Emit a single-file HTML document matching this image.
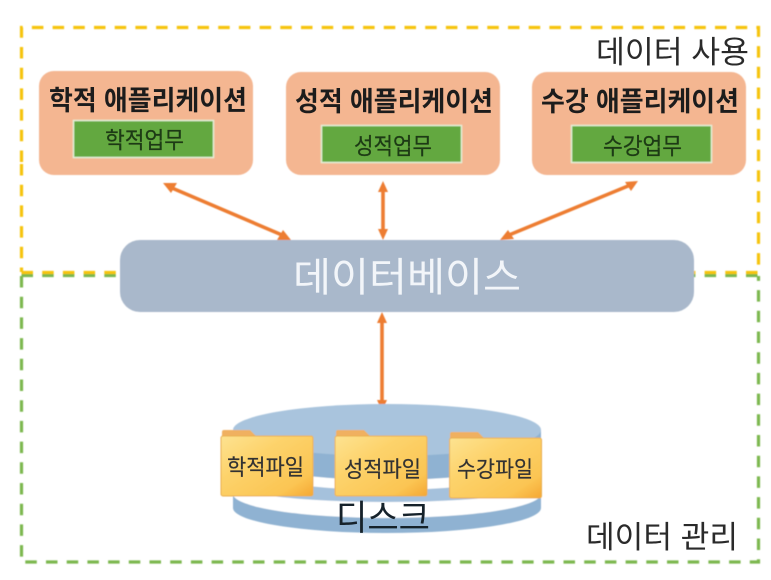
<!DOCTYPE html>
<html><head><meta charset="utf-8">
<style>
html,body{margin:0;padding:0;background:#fff;width:771px;height:580px;overflow:hidden}
svg{display:block}
text{font-family:"Liberation Sans","Noto Sans CJK KR",sans-serif}
</style></head>
<body>
<svg width="771" height="580" viewBox="0 0 771 580" xmlns="http://www.w3.org/2000/svg">
<defs>
<linearGradient id="f" x1="0" y1="0" x2="1" y2="1">
<stop offset="0" stop-color="#fde391"/><stop offset=".35" stop-color="#fdd36c"/><stop offset=".8" stop-color="#fbc553"/><stop offset="1" stop-color="#f5a733"/>
</linearGradient>
<filter id="b" x="-5%" y="-5%" width="110%" height="110%"><feGaussianBlur stdDeviation="0.45"/></filter>
<filter id="t" x="-5%" y="-5%" width="110%" height="110%"><feGaussianBlur stdDeviation="0.3"/></filter>
</defs>
<rect width="771" height="580" fill="#fff"/>
<g filter="url(#b)">
<path d="M21.5 276V562H758.500V276" fill="none" stroke="#7db84f" stroke-width="3.2" stroke-dasharray="11.5 9.2"/>
<path d="M21.500 275.500H758.500" fill="none" stroke="#7db84f" stroke-width="3.200" stroke-dasharray="11.5 9.2"/>
<path d="M21.5 162V27.5H758.500V272" fill="none" stroke="#f6c40e" stroke-width="3.2" stroke-dasharray="11.5 9.2"/>
<path d="M21.5 164V272" fill="none" stroke="#f6c40e" stroke-width="3.2" stroke-dasharray="11.5 9.2"/>
<path d="M21.500 272.500H758.500" fill="none" stroke="#f6c40e" stroke-width="3.200" stroke-dasharray="11.5 9.2"/>

<rect x="39" y="71" width="214" height="104" rx="15" fill="#f4b691"/>
<rect x="286" y="72" width="214" height="103" rx="15" fill="#f4b691"/>
<rect x="532" y="72" width="214" height="103" rx="15" fill="#f4b691"/>
<rect x="73.5" y="120.5" width="140" height="37" fill="#63a83f" stroke="#e4f0d8" stroke-width="1.5"/>
<rect x="321.5" y="125.5" width="140" height="37" fill="#63a83f" stroke="#e4f0d8" stroke-width="1.5"/>
<rect x="571.5" y="125.5" width="140" height="37" fill="#63a83f" stroke="#e4f0d8" stroke-width="1.5"/>

<g stroke="#ed7d31" stroke-width="3.6" fill="none">
<path d="M172 188L282 235"/>
<path d="M383 190V232"/>
<path d="M628 186L509 235"/>
<path d="M382 320V404"/>
</g>
<g fill="#ed7d31">
<path d="M163 183L177 183L171 193Z"/>
<path d="M291 240L277 240L283 230Z"/>
<path d="M383 181L388 192L378 192Z"/>
<path d="M383 240L388 229L378 229Z"/>
<path d="M638 181L631 191L625 182Z"/>
<path d="M500 240L514 239L508 230Z"/>
<path d="M382 312L387 323L377 323Z"/>
<path d="M382 411L377 400L387 400Z"/>
</g>

<rect x="120" y="240" width="574" height="72" rx="20" fill="#a9b8cb"/>

<!-- disk -->
<path d="M233 497V508A154 25 0 0 0 541 508V497Z" fill="#8fb2d2"/>
<ellipse cx="387" cy="497" rx="154" ry="25" fill="#8fb2d2"/>
<ellipse cx="387" cy="494" rx="154" ry="24" fill="#fff"/>
<ellipse cx="387" cy="484" rx="154" ry="18" fill="#a5c1dc"/>
<ellipse cx="387" cy="462" rx="154" ry="28" fill="#fff"/>
<path d="M233 430V452A154 28 0 0 0 541 452V430Z" fill="#8fb2d2"/>
<ellipse cx="387" cy="430" rx="154" ry="26" fill="#a9c4dd"/>

<!-- folders -->
<g>
<path d="M222 442V432Q222 430 224 430H250L256 436V442Z" fill="#f0b060"/>
<rect x="221" y="436" width="92" height="60" rx="2" fill="url(#f)" stroke="#e8ad4d" stroke-width="1"/>
<path d="M336 442V432Q336 430 338 430H364L370 436V442Z" fill="#f0b060"/>
<rect x="335" y="436" width="92" height="60" rx="2" fill="url(#f)" stroke="#e8ad4d" stroke-width="1"/>
<path d="M450 444V434Q450 432 452 432H478L484 438V444Z" fill="#f0b060"/>
<rect x="449.500" y="438" width="92" height="60" rx="2" fill="url(#f)" stroke="#e8ad4d" stroke-width="1"/>
</g>
</g>

<g filter="url(#t)">
<text x="293" y="291" font-size="40" fill="#f2f5f9" textLength="228" lengthAdjust="spacingAndGlyphs">데이터베이스</text>
<g fill="#1c1c1c">
<text x="49" y="110" font-size="27" font-weight="700" textLength="198" lengthAdjust="spacingAndGlyphs">학적 애플리케이션</text>
<text x="295" y="111" font-size="27" font-weight="700" textLength="198" lengthAdjust="spacingAndGlyphs">성적 애플리케이션</text>
<text x="541" y="111" font-size="27" font-weight="700" textLength="198" lengthAdjust="spacingAndGlyphs">수강 애플리케이션</text>
<text x="105" y="148" font-size="23" textLength="79" lengthAdjust="spacingAndGlyphs" fill="#1f3a14" stroke="#1f3a14" stroke-width=".25">학적업무</text>
<text x="354" y="154" font-size="23" textLength="78" lengthAdjust="spacingAndGlyphs" fill="#1f3a14" stroke="#1f3a14" stroke-width=".25">성적업무</text>
<text x="603" y="154" font-size="23" textLength="79" lengthAdjust="spacingAndGlyphs" fill="#1f3a14" stroke="#1f3a14" stroke-width=".25">수강업무</text>
<text x="227" y="475" font-size="22" textLength="77" lengthAdjust="spacingAndGlyphs" fill="#333" stroke="#333" stroke-width=".2">학적파일</text>
<text x="344" y="477" font-size="22" textLength="77" lengthAdjust="spacingAndGlyphs" fill="#333" stroke="#333" stroke-width=".2">성적파일</text>
<text x="457" y="477" font-size="22" textLength="76" lengthAdjust="spacingAndGlyphs" fill="#333" stroke="#333" stroke-width=".2">수강파일</text>
<text x="336" y="530" font-size="35" textLength="94" lengthAdjust="spacingAndGlyphs" fill="#15202b">디스크</text>
<text x="596" y="63" font-size="31" textLength="153" lengthAdjust="spacingAndGlyphs" fill="#2a2a2a">데이터 사용</text>
<text x="586" y="548" font-size="31" textLength="152" lengthAdjust="spacingAndGlyphs" fill="#2a2a2a">데이터 관리</text>
</g>
</g>
</svg>
</body></html>
